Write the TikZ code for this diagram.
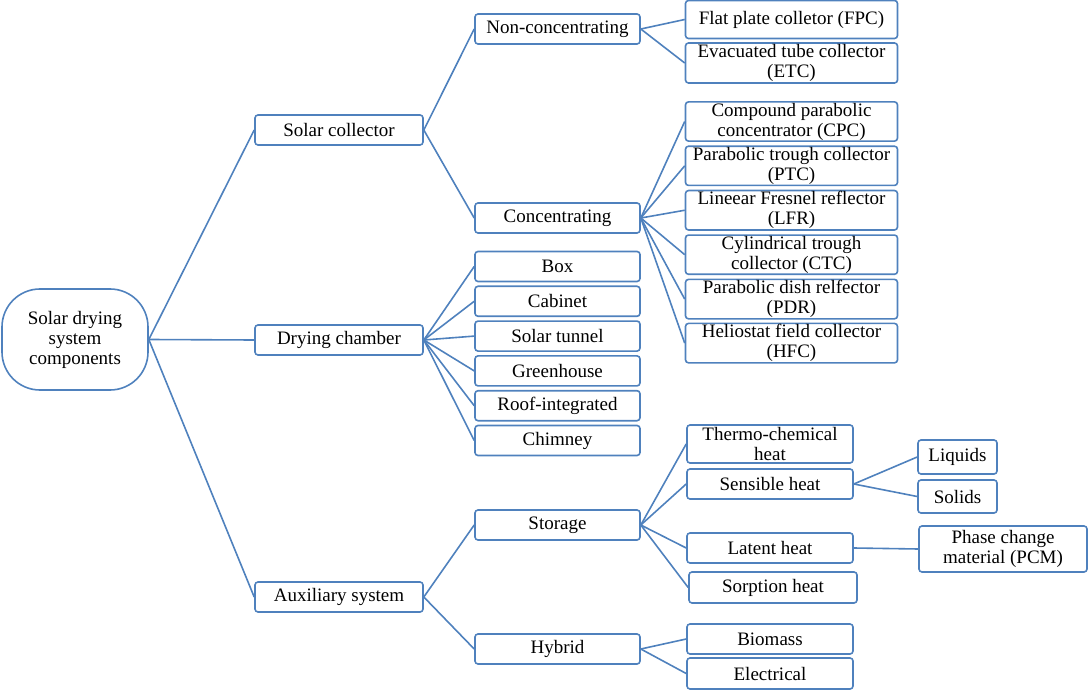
\documentclass[tikz,border=0pt]{standalone}
\usepackage{fontspec}
\setmainfont{Liberation Serif}
\usetikzlibrary{positioning}
\definecolor{sdblue}{RGB}{79,129,189}

\begin{document}
\begin{tikzpicture}
  [
  x=1pt, y=-1pt,
  font=\fontsize{19}{20}\selectfont,
  block/.style = {rectangle, rounded corners=3pt, draw=sdblue,
    line width=1.6pt, align=center, inner sep=1pt,
    minimum height=30pt, minimum width=165pt},
  % kolektor
  wide/.style = {block, minimum width=212pt, minimum height=39pt},
  % akar
  rootbox/.style = {rectangle, rounded corners=38pt, draw=sdblue,
    line width=1.6pt, align=center,
    minimum height=101pt, minimum width=146pt},
  % line
  line/.style = {draw=sdblue, line width=1.6pt},
  ]
  \useasboundingbox (0,0) rectangle (1089,692);

  % nodes
  \node [rootbox] (sdsc) at (75,339.5) {Solar drying\\system\\components};
  \node [block, minimum width=168pt] (scol) at (339,130) {Solar collector};
  \node [block, minimum width=168pt] (dch) at (339,340) {Drying chamber};
  \node [block, minimum width=168pt] (aux) at (339,597) {Auxiliary system};

  % solar collector
  \node [block] (noncon) at (557.5,29) {Non-concentrating};
  \node [block] (concen) at (557.5,218) {Concentrating};
  \node [wide, minimum height=38pt] (fpc) at (791.5,19.5) {Flat plate colletor (FPC)};
  \node [wide, minimum height=40pt] (etc) at (791.5,63) {Evacuated tube collector\\(ETC)};
  \node [wide] (cpc) at (791.5,121.5) {Compound parabolic\\concentrator (CPC)};
  \node [wide, below=3.5pt of cpc] (ptc) {Parabolic trough collector\\(PTC)};
  \node [wide, below=3.5pt of ptc] (lfr) {Lineear Fresnel reflector\\(LFR)};
  \node [wide, below=3.5pt of lfr] (ctc) {Cylindrical trough\\collector (CTC)};
  \node [wide, below=3.5pt of ctc] (pdr) {Parabolic dish relfector\\(PDR)};
  \node [wide, below=3pt of pdr] (hfc) {Heliostat field collector\\(HFC)};

  % drying chamber
  \node [block] (box) at (557.5,266.5) {Box};
  \node [block, below=3.2pt of box] (cab) {Cabinet};
  \node [block, below=3.2pt of cab] (tun) {Solar tunnel};
  \node [block, below=3.2pt of tun] (grh) {Greenhouse};
  \node [block, below=3.2pt of grh] (roof) {Roof-integrated};
  \node [block, below=3.2pt of roof] (chim) {Chimney};

  % auxiliary system
  \node [block] (stor) at (557.5,525) {Storage};
  \node [block] (hyb) at (557.5,649) {Hybrid};
  \node [block, minimum width=166pt, minimum height=38pt] (thch) at (770,444) {Thermo-chemical\\heat};
  \node [block, minimum width=166pt] (sens) at (770,484) {Sensible heat};
  \node [block, minimum width=166pt] (lat) at (770,548) {Latent heat};
  \node [block, minimum width=168pt, minimum height=31pt] (sorp) at (773,587.5) {Sorption heat};
  \node [block, minimum width=166pt] (bio) at (770,639) {Biomass};
  \node [block, minimum width=166pt, minimum height=31pt] (elec) at (770,673.5) {Electrical};
  \node [block, minimum width=79pt, minimum height=34pt] (liq) at (957.5,457) {Liquids};
  \node [block, minimum width=79pt, minimum height=33pt] (sol) at (957.5,496.5) {Solids};
  \node [block, minimum width=168pt, minimum height=46pt] (pcm) at (1003,549) {Phase change\\material (PCM)};

  % path
  \path [line] (sdsc.east) -- (scol.west);
  \path [line] (sdsc.east) -- (dch.west);
  \path [line] (sdsc.east) -- (aux.west);
  \path [line] (scol.east) -- (noncon.west);
  \path [line] (scol.east) -- (concen.west);
  \path [line] (noncon.east) -- (fpc.west);
  \path [line] (noncon.east) -- (etc.west);
  \path [line] (concen.east) -- (cpc.west);
  \path [line] (concen.east) -- (ptc.west);
  \path [line] (concen.east) -- (lfr.west);
  \path [line] (concen.east) -- (ctc.west);
  \path [line] (concen.east) -- (pdr.west);
  \path [line] (concen.east) -- (hfc.west);
  \path [line] (dch.east) -- (box.west);
  \path [line] (dch.east) -- (cab.west);
  \path [line] (dch.east) -- (tun.west);
  \path [line] (dch.east) -- (grh.west);
  \path [line] (dch.east) -- (roof.west);
  \path [line] (dch.east) -- (chim.west);
  \path [line] (aux.east) -- (stor.west);
  \path [line] (aux.east) -- (hyb.west);
  \path [line] (stor.east) -- (thch.west);
  \path [line] (stor.east) -- (sens.west);
  \path [line] (stor.east) -- (lat.west);
  \path [line] (stor.east) -- (sorp.west);
  \path [line] (hyb.east) -- (bio.west);
  \path [line] (hyb.east) -- (elec.west);
  \path [line] (sens.east) -- (liq.west);
  \path [line] (sens.east) -- (sol.west);
  \path [line] (lat.east) -- (pcm.west);

\end{tikzpicture}
\end{document}
